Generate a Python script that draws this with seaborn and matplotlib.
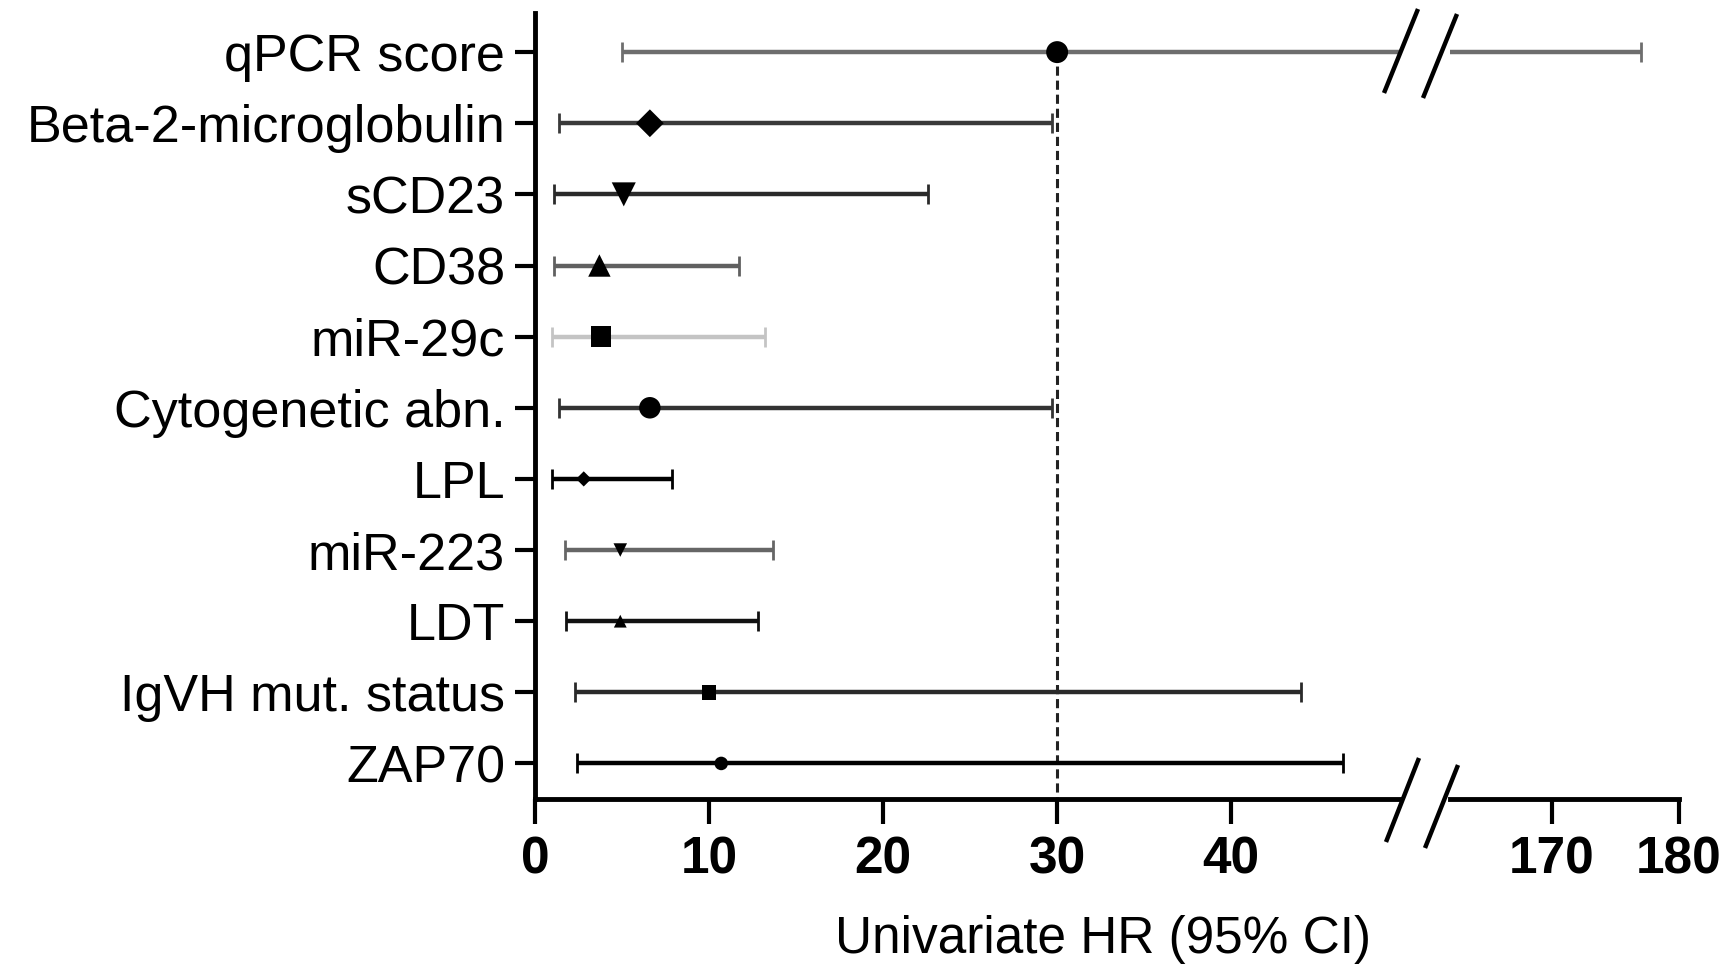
import numpy as np
import pandas as pd
import matplotlib
matplotlib.use("Agg")
import matplotlib.pyplot as plt
import seaborn as sns
from matplotlib.lines import Line2D

# ---------------- data ----------------
categories = ["qPCR score", "Beta-2-microglobulin", "sCD23", "CD38", "miR-29c",
              "Cytogenetic abn.", "LPL", "miR-223", "LDT", "IgVH mut. status", "ZAP70"]
hr = [30.0, 6.6, 5.1, 3.7, 3.8, 6.6, 2.8, 4.9, 4.9, 10.0, 10.7]
ci_low = [5.0, 1.4, 1.1, 1.1, 1.0, 1.4, 1.0, 1.7, 1.8, 2.3, 2.4]
ci_high = [177.0, 29.7, 22.6, 11.7, 13.2, 29.7, 7.9, 13.7, 12.8, 44.0, 46.4]
left_ticks = [0, 10, 20, 30, 40]
right_ticks = [170, 180]
reference_hr = 30

# ---------------- styles ----------------
marker_map = {"qPCR score": "o", "Beta-2-microglobulin": "D", "sCD23": "v", "CD38": "^",
              "miR-29c": "s", "Cytogenetic abn.": "o", "LPL": "D", "miR-223": "v",
              "LDT": "^", "IgVH mut. status": "s", "ZAP70": "o"}
size_map = {"qPCR score": 250, "Beta-2-microglobulin": 200, "sCD23": 300, "CD38": 260,
            "miR-29c": 220, "Cytogenetic abn.": 240, "LPL": 60, "miR-223": 95,
            "LDT": 85, "IgVH mut. status": 110, "ZAP70": 95}
line_colors = ["#6e6e6e", "#3a3a3a", "#2a2a2a", "#606060", "#c4c4c4", "#333333",
               "#000000", "#666666", "#111111", "#2a2a2a", "#000000"]
cap_colors = ["#111111"] * len(categories)
cap_colors[4] = "#777777"

sns.set_theme(style="ticks")
plt.rcParams["font.family"] = ["Liberation Sans", "DejaVu Sans"]
plt.rcParams.update({"text.color": "black", "axes.labelcolor": "black",
                     "xtick.color": "black", "ytick.color": "black",
                     "axes.edgecolor": "black"})

W, H = 1736, 967
fig = plt.figure(figsize=(W / 100, H / 100), dpi=100)
fig.patch.set_facecolor("white")

ax_bottom = (H - 799) / H
ax_height = (799 - 13) / H
ax1 = fig.add_axes([535 / W, ax_bottom, (1400 - 535) / W, ax_height])
ax2 = fig.add_axes([1450 / W, ax_bottom, (1679 - 1450) / W, ax_height], sharey=ax1)

pos = np.arange(len(categories))
df = pd.DataFrame({"label": categories, "hr": hr, "pos": pos})

for ax in (ax1, ax2):
    ax.set_facecolor("white")
    for i in range(len(categories)):
        lo = hr[i] - ci_low[i]
        hi = ci_high[i] - hr[i]
        _, caplines, barcols = ax.errorbar(hr[i], pos[i], xerr=[[lo], [hi]], fmt="none",
                                           ecolor=line_colors[i], elinewidth=3.2,
                                           capsize=7.2, capthick=2.0, zorder=3)
        for c in caplines:
            c.set_color(cap_colors[i])
    sns.scatterplot(data=df, x="hr", y="pos", style="label", markers=marker_map,
                    size="label", sizes=size_map, color="black", edgecolor="black",
                    linewidth=0, legend=False, ax=ax, zorder=5)

# reference dashed line at HR = 30
ax1.vlines(reference_hr, 0, 10.5, colors="#222222", linestyles=(0, (3, 1.6)),
           linewidth=2.2, zorder=2)

ax1.set_xlim(0, 49.7)
ax2.set_xlim(162.0, 180)
ax1.set_ylim(10.5, -0.55)

ax1.set_yticks(pos)
ax1.set_yticklabels(categories)
ax1.set_xticks(left_ticks)
ax2.set_xticks(right_ticks)

for ax in (ax1, ax2):
    ax.set_xlabel("")
    ax.set_ylabel("")
    ax.spines["top"].set_visible(False)
    ax.spines["right"].set_visible(False)
    ax.spines["bottom"].set_linewidth(3.5)
    ax.spines["left"].set_linewidth(3.5)
    ax.spines["bottom"].set_color("black")
    ax.spines["left"].set_color("black")
    ax.tick_params(axis="x", length=18, width=3, pad=8, labelsize=37,
                   color="black", labelcolor="black")
    for t in ax.get_xticklabels():
        t.set_fontweight("bold")

ax1.tick_params(axis="y", length=14.5, width=3, pad=7, labelsize=37.5,
                color="black", labelcolor="black")
ax2.spines["left"].set_visible(False)
ax2.tick_params(axis="y", left=False, labelleft=False)

# axis-break marks
def slash(x0, y0, x1, y1):
    fig.add_artist(Line2D([x0 / W, x1 / W], [1 - y0 / H, 1 - y1 / H],
                          color="black", linewidth=3.2, solid_capstyle="butt"))

slash(1384, 93, 1418, 9)
slash(1423, 98, 1457, 14)
slash(1386, 842, 1419, 758)
slash(1425, 848, 1458, 765)

fig.text(1103 / W, 1 - 939 / H, "Univariate HR (95% CI)", ha="center", va="center",
         fontsize=37, color="black")

fig.savefig("out.png", dpi=100, facecolor="white")
